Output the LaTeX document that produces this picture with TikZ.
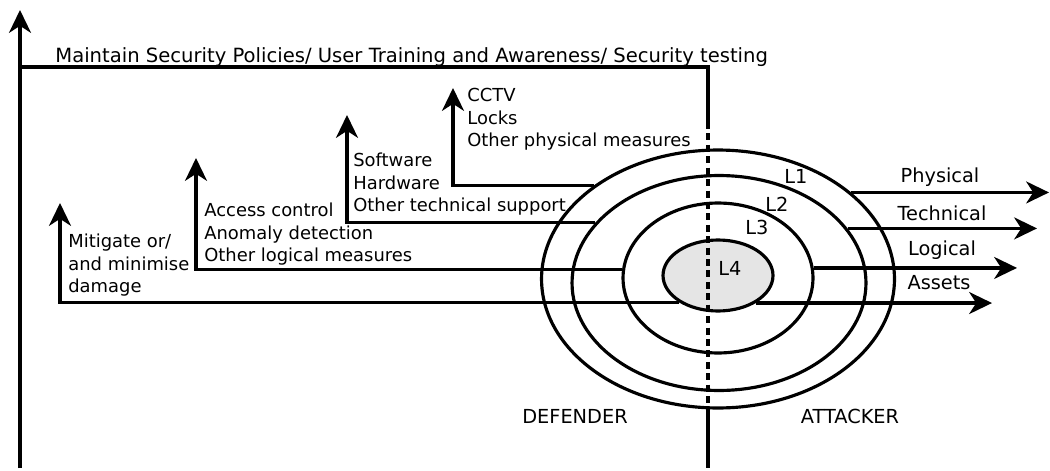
\documentclass[tikz,border=0pt]{standalone}
\usepackage{fontspec}
\setmainfont{DejaVu Sans}
\usetikzlibrary{shapes.geometric,arrows.meta}

\tikzset{
  layer/.style={draw,ellipse,line width=1.8pt,inner sep=0pt},
  arr/.style={line width=1.8pt,-{Stealth[length=13pt,width=12.5pt,inset=4pt]}},
  plain/.style={line width=1.8pt},
  lbl/.style={inner sep=0pt,font=\fontsize{11}{12.8}\selectfont},
  blk/.style={inner sep=0pt,font=\fontsize{10.2}{12.8}\selectfont,align=left,anchor=north west},
}

\begin{document}
\begin{tikzpicture}[x=0.02cm,y=-0.02cm]
\useasboundingbox (0,0) rectangle (1050,470);
% The four layers
              \node[layer,minimum width=7.06cm,minimum height=5.16cm] (layer1) at (718,279) {};
              \node[layer,minimum width=5.88cm,minimum height=4.3cm] (layer2) at (719,283) {};
              \node[layer,minimum width=3.8cm,minimum height=3.0cm] (layer3) at (718,278) {};
              \node[layer,fill=black!10,minimum width=2.2cm,minimum height=1.42cm] (layer4) at (718,275.5) {};
              \node[lbl,anchor=base] (L1) at (796,183) {L1};
              \node[lbl,anchor=base] (L2) at (777,211) {L2};
              \node[lbl,anchor=base] (L3) at (757,234) {L3};
              \node[lbl,anchor=base] (L4) at (730,275) {L4};
% Axis on the left and the dividing line
              \coordinate (axisbot) at (20,468);
              \coordinate (axistop) at (20,10);
              \coordinate (divtop) at (708,67);
              \coordinate (divdash) at (708,122);
              \coordinate (divlow) at (708,408);
              \coordinate (divbot) at (708,468);
              \draw[arr] (axisbot) -- (axistop);
              \draw[plain] (axisbot |- divtop) -- (divtop) -- (divdash);
              \draw[plain,dash pattern=on 4pt off 2.5pt] (divdash) -- (divlow);
              \draw[plain] (divlow) -- (divbot);
              \node[lbl,font=\fontsize{11.15}{12.8}\selectfont,anchor=base west] (maintain) at (55,62) {Maintain Security Policies/ User Training and Awareness/ Security testing};
              \node[lbl,anchor=base] (defender) at (575,423) {DEFENDER};
              \node[lbl,anchor=base] (attacker) at (850,423) {ATTACKER};
% Defender side
              \coordinate (cctv) at (453,88);
              \coordinate (soft) at (347,115);
              \coordinate (access) at (196,158);
              \coordinate (mitig) at (60,203);
              \draw[arr] (layer1.143.4) -- (layer1.143.4 -| cctv) -- (cctv);
              \draw[arr] (layer2.154.4) -- (layer2.154.4 -| soft) -- (soft);
              \draw[arr] (layer3.175.8) -- (layer3.175.8 -| access) -- (access);
              \draw[arr] (layer4.215.9) -- (layer4.215.9 -| mitig) -- (mitig);
              \node[blk] (physm) at (467,88) {CCTV\\Locks\\Other physical measures};
              \node[blk] (techm) at (353,153) {Software\\Hardware\\Other technical support};
              \node[blk] (logm) at (204,203) {Access control\\Anomaly detection\\Other logical measures};
              \node[blk] (mitm) at (68,234) {Mitigate or/\\and minimise\\damage};
% Attacker side
              \coordinate (phys) at (1049,0);
              \coordinate (tech) at (1037,0);
              \coordinate (logic) at (1017,0);
              \coordinate (assets) at (992,0);
              \draw[arr] (layer1.33.2) -- (layer1.33.2 -| phys);
              \draw[arr] (layer2.23) -- (layer2.23 -| tech);
              \draw[arr] (layer3.6.1) -- (layer3.6.1 -| logic);
              \draw[arr] (layer4.324.1) -- (layer4.324.1 -| assets);
              \node[lbl,anchor=base] (physical) at (940,182) {Physical};
              \node[lbl,anchor=base] (technical) at (942,220) {Technical};
              \node[lbl,anchor=base] (logical) at (942,255) {Logical};
              \node[lbl,anchor=base] (assetsl) at (939,289) {Assets};
\end{tikzpicture}
\end{document}
